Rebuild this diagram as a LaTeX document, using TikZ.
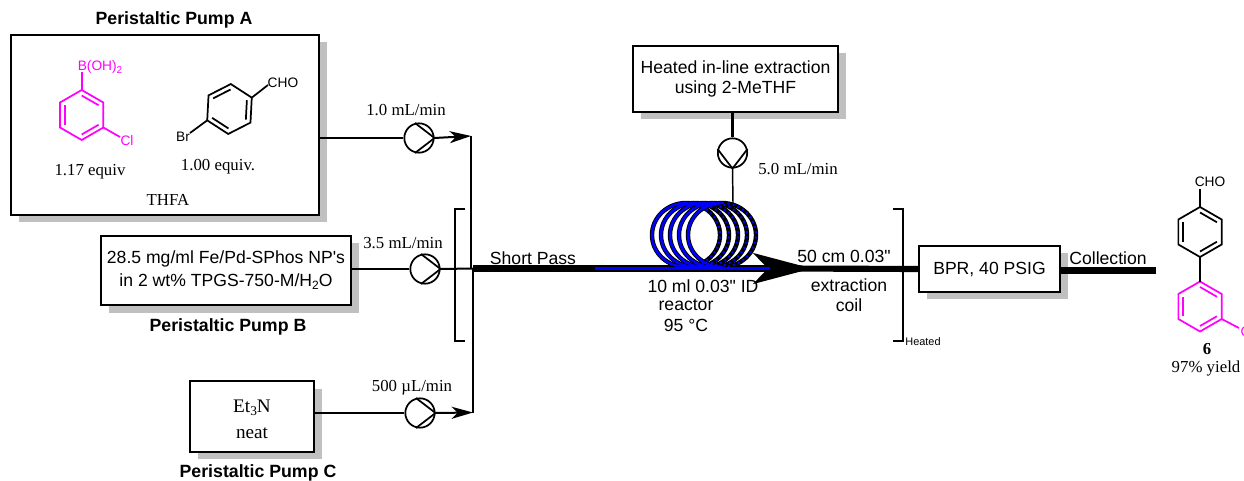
\documentclass[tikz,border=0pt]{standalone}
\usepackage{fontspec}
\setmainfont{Liberation Sans}[Ligatures=TeXOff]
\newfontfamily\tnr{Liberation Serif}
\usetikzlibrary{calc,shadows,arrows.meta}
\definecolor{shadowgray}{HTML}{C0C0C0}
\definecolor{chempink}{HTML}{FF00FF}
\definecolor{coilblue}{HTML}{0000FF}
\newcommand{\subtwo}[2][9]{\raisebox{-2.4pt}{\fontsize{#1}{#1}\selectfont #2}}
% name, cx, cy, rotation, colour, first double edge offset
\newcommand{\hexring}[6]{%
  \coordinate (#1c) at (#2,#3);
  \foreach \i in {0,...,5}{\coordinate (#1\i) at ($(#2,#3)+(#4+60*\i-90:25)$);}
  \draw[bondline,#5,line join=miter] (#10)--(#11)--(#12)--(#13)--(#14)--(#15)--cycle;
  \foreach \i in {0,2,4}{
    \draw[bondline,#5] ($(#2,#3)+(#4+60*\i+60*#6-90:19.5)$) -- ($(#2,#3)+(#4+60*\i+60*#6-30:19.5)$);
  }%
}
% pump chevron: name, tip direction
\newcommand{\chevron}[2]{%
  \draw[pumpline,line join=miter] (#1.#2+105) -- (#1.#2) -- (#1.#2-105);
}
\tikzset{
  x=0.75pt,y=-0.75pt,
  sans/.style={font=\fontsize{13.2}{15}\selectfont,inner sep=0pt,align=center},
  sansbold/.style={font=\fontsize{13.3}{15}\selectfont\bfseries,inner sep=0pt},
  serif/.style={font=\tnr\fontsize{12.6}{15}\selectfont,inner sep=0pt,align=center},
  chem/.style={font=\fontsize{10.3}{12}\selectfont,inner sep=0pt},
  boxed/.style={draw,line width=1.5pt,fill=white,inner sep=0pt,align=center,
    general shadow={fill=shadowgray,shadow xshift=6pt,shadow yshift=-5.6pt}},
  pumpnode/.style={circle,draw,line width=1.3pt,fill=white,minimum size=22pt,inner sep=0pt},
  pumpline/.style={line width=1.3pt},
  flow/.style={line width=1.5pt},
  heavyflow/.style={line width=4.6pt},
  bracketline/.style={line width=1.5pt},
  bondline/.style={line width=1.3pt},
  smallhead/.style={-{Stealth[length=16pt,width=9pt,inset=4.5pt]}},
  bighead/.style={-{Stealth[length=44pt,width=23pt,inset=11pt]}}
}
\begin{document}
\begin{tikzpicture}
\useasboundingbox (0,0) rectangle (1244,481);
% boxes
\node[boxed,minimum width=231pt,minimum height=135pt] (boxA) at (165,125) {};
\node[boxed,minimum width=187.5pt,minimum height=52pt,sans] (boxB) at (226,270.5)
  {28.5 mg/ml Fe/Pd-SPhos NP's\\[2pt]in 2 wt\% TPGS-750-M/H\subtwo{2}O};
\node[boxed,minimum width=93pt,minimum height=53pt,serif,font=\tnr\fontsize{14.4}{15}\selectfont] (boxC) at (252,416.5)
  {\rule{0pt}{14pt}Et\subtwo[10]{3}N\\[4.5pt]neat};
\node[boxed,minimum width=153.5pt,minimum height=49.5pt,sans] (boxD) at (735.5,79)
  {Heated in-line extraction\\using 2-MeTHF};
\node[boxed,minimum width=105.5pt,minimum height=34.5pt,sans] (bpr) at (989.5,269) {BPR, 40 PSIG};
% pumps
\node[pumpnode] (pumpA) at (419,138) {};
\node[pumpnode] (pumpB) at (425,269) {};
\node[pumpnode] (pumpC) at (420,413) {};
\node[pumpnode] (pumpD) at (732.5,153) {};
\chevron{pumpA}{0}
\chevron{pumpB}{0}
\chevron{pumpC}{0}
\chevron{pumpD}{270}
% junction points
\coordinate (jtop) at (471,136);
\coordinate (jmid) at (473,268.5);
\coordinate (jbot) at (473,412.5);
\coordinate (tip) at (812,268.5);
\coordinate (neck) at (785,268.5);
\coordinate (coiltop) at (733,203);
\coordinate (collect) at (1156,270.5);
\coordinate (blueA) at (595,268.5);
\coordinate (blueB) at (770,268.5);
% feed lines
\draw[flow] (boxA.east |- pumpA.west) -- (pumpA.west);
\draw[flow] (boxB.east |- pumpB.west) -- (pumpB.west);
\draw[flow] (boxC.east |- pumpC.west) -- (pumpC.west);
\draw[flow,smallhead] (pumpA.east) -- (jtop);
\draw[flow,smallhead] (pumpC.east) -- (jbot);
\draw[flow] (pumpB.east) -- (jmid);
\draw[flow] (jtop) -- (jtop |- jmid);
\draw[flow] (jmid) -- (jbot);
\draw[line width=2.2pt] (boxD.south -| pumpD.north) -- (pumpD.north);
\draw[line width=1.1pt] (pumpD.south) -- (coiltop);
% main line
\draw[heavyflow,bighead] (jmid) -- (tip);
\draw[heavyflow] (neck) -- (bpr.west);
\draw[heavyflow] (bpr.east |- collect) -- (collect);
% coil
\foreach \cx in {686,695,704,713,722}{
  \draw[black,line width=3.3pt] (\cx,235) ellipse [x radius=34,y radius=32];
}
\foreach \cx in {686,695,704,713,722}{
  \draw[coilblue,line width=1.9pt] (\cx,203) arc[start angle=270,end angle=90,x radius=34,y radius=32];
  \draw[coilblue,line width=1.6pt,dash pattern=on 1.4pt off 2.6pt] (\cx,203) arc[start angle=270,end angle=450,x radius=34,y radius=32];
}
\draw[coilblue,line width=2pt] (blueA) -- (blueB);
% brackets
\coordinate (bl1) at (465,209); \coordinate (bl2) at (455,209);
\coordinate (bl3) at (455,341); \coordinate (bl4) at (465,341);
\draw[bracketline] (bl1) -- (bl2) -- (bl3) -- (bl4);
\coordinate (br1) at (893,209); \coordinate (br2) at (902.5,209);
\coordinate (br3) at (902.5,341); \coordinate (br4) at (893,341);
\draw[bracketline] (br1) -- (br2) -- (br3) -- (br4);
% labels
\node[sansbold] (ttlA) at (174,20) {Peristaltic Pump A};
\node[sansbold] (ttlB) at (228,327) {Peristaltic Pump B};
\node[sansbold] (ttlC) at (258,473) {Peristaltic Pump C};
\node[serif] (rateA) at (406,110) {1.0 mL/min};
\node[serif] (rateB) at (403,243) {3.5 mL/min};
\node[serif] (rateC) at (412,388) {500 µL/min};
\node[serif] (rateD) at (798,169) {5.0 mL/min};
\node[sans] (short) at (533,258) {Short Pass};
\node[sans] (react1) at (703,286) {10 ml 0.03" ID};
\node[sans] (react2) at (686,305) {reactor};
\node[sans] (react3) at (686,325) {95 °C};
\node[sans] (ext0) at (844,256) {50 cm 0.03"};
\node[sans] (ext1) at (849,285) {extraction};
\node[sans] (ext2) at (849,305) {coil};
\node[font=\fontsize{8.2}{9}\selectfont,inner sep=0pt] (heated) at (923,342) {Heated};
\node[sans] (coll) at (1108,258) {Collection};
\node[serif] (eqA) at (90,172) {1.17 equiv};
\node[serif] (eqB) at (218,167) {1.00 equiv.};
\node[serif] (thfa) at (168,200) {THFA};
\node[serif,font=\tnr\fontsize{12.6}{15}\selectfont\bfseries] (cmpd) at (1207,349) {6};
\node[serif] (yield) at (1206,368) {97\% yield};
% structures
\hexring{ra}{81.7}{115}{0}{chempink}{0}
\node[chem,text=chempink] (boh) at (100,67) {B(OH)\subtwo[7.5]{2}};
\node[chem,text=chempink] (cla) at (127,141) {Cl};
\coordinate (boha) at (81.7,72);
\coordinate (claa) at (120,137);
\draw[bondline,chempink] (ra0) -- (boha);
\draw[bondline,chempink] (ra2) -- (claa);
\hexring{rb}{229.5}{109}{3}{black}{-1}
\node[chem] (cho) at (283,83) {CHO};
\node[chem] (br) at (183,137) {Br};
\coordinate (choa) at (268,85);
\coordinate (bra) at (190,133);
\draw[bondline] (rb1) -- (choa);
\draw[bondline] (rb4) -- (bra);
\hexring{rc}{1200}{232}{0}{black}{0}
\hexring{rd}{1200}{306.5}{0}{chempink}{0}
\node[chem] (chop) at (1210,182) {CHO};
\node[chem,text=chempink] (clp) at (1247,332) {Cl};
\coordinate (chob) at (1200,189);
\coordinate (clb) at (1239,328);
\draw[bondline] (rc0) -- (chob);
\draw[bondline] (rc3) -- (rd0);
\draw[bondline,chempink] (rd2) -- (clb);
\end{tikzpicture}
\end{document}
